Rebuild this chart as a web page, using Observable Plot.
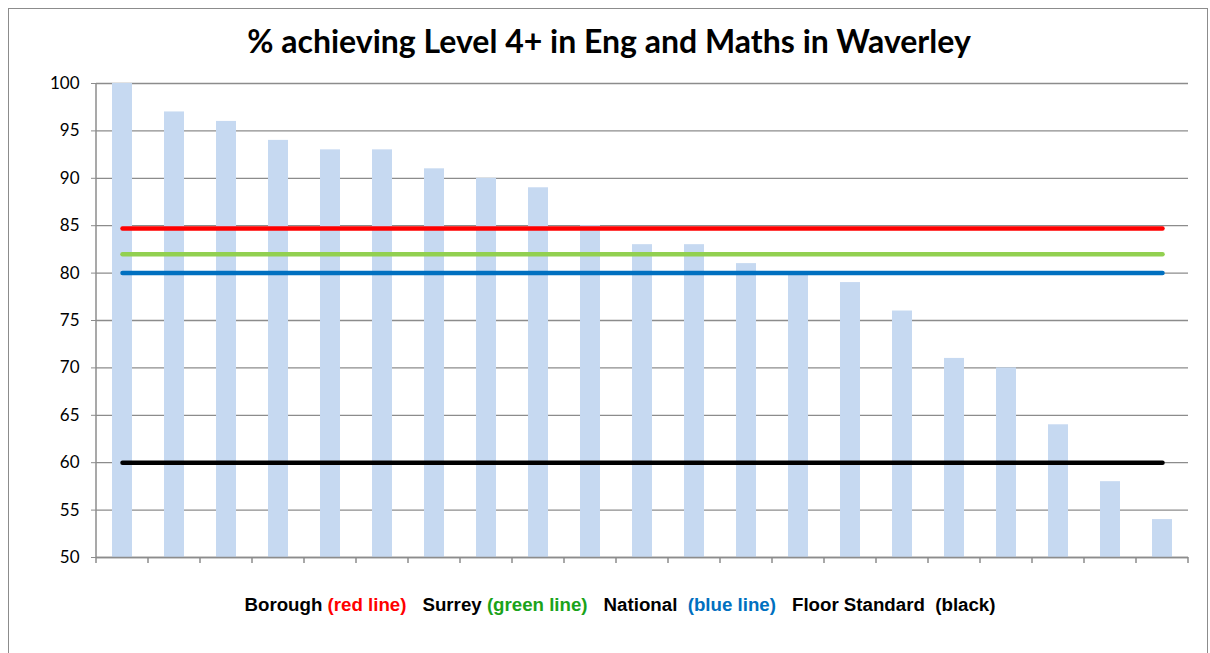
<!DOCTYPE html>
<html>
<head>
<meta charset="utf-8">
<script src="https://cdn.jsdelivr.net/npm/d3@7"></script>
<script src="https://cdn.jsdelivr.net/npm/@observablehq/plot@0.6"></script>
<style>
  html, body { margin: 0; padding: 0; background: #fff; }
  #wrap { position: relative; width: 1210px; height: 653px; overflow: hidden; }
  #frame { position: absolute; left: 8px; top: 8px; width: 1200px; height: 660px; border: 1px solid #8c8c8c; box-sizing: border-box; }
  #title { position: absolute; left: 0; top: 21px; width: 1218px; text-align: center; font-family: Lato, "Open Sans", sans-serif; font-weight: bold; font-size: 32px; color: #000; }
  #chart { position: absolute; left: 0; top: 70px; }
  #legend { position: absolute; left: 0; top: 594px; width: 1240px; text-align: center; font-family: "Liberation Sans", Arial, sans-serif; font-weight: bold; font-size: 18.7px; color: #000; }
</style>
</head>
<body>
<div id="wrap">
  <div id="frame"></div>
  <div id="title">% achieving Level 4+ in Eng and Maths in Waverley</div>
  <div id="chart"></div>
  <div id="legend"></div>
</div>
<script>
// Data
const schools = d3.range(1, 22).map(i => "S" + i);
const values = [100, 97, 96, 94, 93, 93, 91, 90, 89, 85, 83, 83, 81, 80, 79, 76, 71, 70, 64, 58, 54];
const refNames = ["Borough", "Surrey", "National", "Floor Standard"];
const refValues = [84.7, 82, 80, 60];
const refColors = ["#ff0000", "#92d050", "#0070c0", "#000000"];
const legendParts = [
  ["Borough ", "#000"], ["(red line)", "#ff0000"],
  ["Surrey ", "#000"], ["(green line)", "#1aa31a"],
  ["National  ", "#000"], ["(blue line)", "#0070c0"],
  ["Floor Standard  (black)", "#000"]
];
const yTicks = [50, 55, 60, 65, 70, 75, 80, 85, 90, 95, 100];

const bars = schools.map((s, i) => ({school: s, value: values[i]}));
const refLines = [];
refNames.forEach((n, j) => {
  refLines.push({name: n, school: schools[0], value: refValues[j]});
  refLines.push({name: n, school: schools[schools.length - 1], value: refValues[j]});
});

const chart = Plot.plot({
  width: 1210,
  height: 522,
  marginLeft: 96,
  marginRight: 22,
  marginTop: 13,
  marginBottom: 35,
  style: {fontFamily: "Lato, 'Open Sans', sans-serif", fontSize: "17px", color: "#000", background: "transparent"},
  x: {domain: schools, paddingInner: 0.62, paddingOuter: 0.31, align: 0.5, axis: null},
  y: {domain: [50, 100], ticks: yTicks, label: null, axis: null},
  color: {domain: refNames, range: refColors},
  marks: [
    Plot.gridY(yTicks, {stroke: "#8c8c8c", strokeOpacity: 1, strokeWidth: 1.3}),
    Plot.barY(bars, {x: "school", y1: 50, y2: "value", fill: "#c6d9f1"}),
    Plot.line(refLines, {x: "school", y: "value", z: "name", stroke: d => d.name, strokeWidth: 4.5, strokeLinecap: "round"}),
    Plot.axisY(yTicks, {tickSize: 5, stroke: "#8c8c8c", tickPadding: 12, fontSize: 17, label: null}),
    Plot.ruleY([50], {stroke: "#8c8c8c", strokeWidth: 1.5})
  ]
});
document.getElementById("chart").appendChild(chart);

// x-axis boundary ticks and y-axis line from the scales
const xs = chart.scale("x");
const ys = chart.scale("y");
const svg = d3.select(chart);
const bw = xs.step;
const x0 = xs.apply(schools[0]) - (bw - xs.bandwidth) / 2;
const yBase = ys.apply(50);
const tickG = svg.append("g").attr("stroke", "#8c8c8c").attr("stroke-width", 1.5);
for (let i = 0; i <= schools.length; i++) {
  const x = x0 + i * bw;
  tickG.append("line").attr("x1", x).attr("x2", x).attr("y1", yBase).attr("y2", yBase + 6);
}
svg.append("line").attr("x1", x0).attr("x2", x0)
  .attr("y1", ys.apply(100)).attr("y2", yBase)
  .attr("stroke", "#8c8c8c").attr("stroke-width", 1.5);

const leg = document.getElementById("legend");
legendParts.forEach(([t, c], i) => {
  const s = document.createElement("span");
  s.textContent = t;
  s.style.color = c;
  s.style.whiteSpace = "pre";
  if (i === 2 || i === 4 || i === 6) s.style.marginLeft = "16px";
  leg.appendChild(s);
});
</script>
</body>
</html>
